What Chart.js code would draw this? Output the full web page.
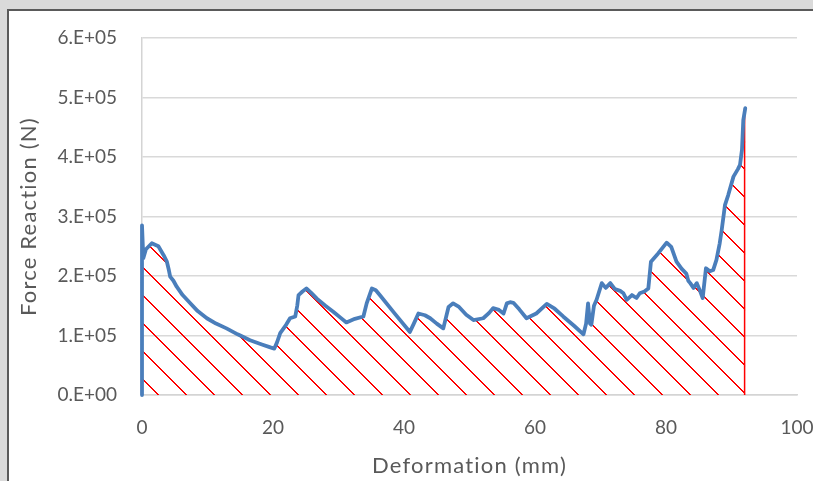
<!DOCTYPE html>
<html>
<head>
<meta charset="utf-8">
<script src="https://cdn.jsdelivr.net/npm/chart.js@4.4.1/dist/chart.umd.min.js"></script>
<style>
  html, body { margin: 0; padding: 0; }
  body { width: 813px; height: 481px; background: #dadada; position: relative; overflow: hidden; }
  #frame { position: absolute; left: 7px; top: 9px; right: 0; bottom: 0; background: #fff;
           border-left: 2px solid #5a5a5a; border-top: 2px solid #5a5a5a; }
  #wrap { position: absolute; left: 0; top: 0; width: 813px; height: 481px; }
</style>
</head>
<body>
<div id="frame"></div>
<div id="wrap"><canvas id="grafico" width="813" height="481"></canvas></div>
<script>
// deformation (mm) / force reaction (N)
const deformation = [
  0, 0, 0.2, 0.6, 1.5, 2.5, 3.3, 3.8, 4.1, 4.3,
  4.8, 5.3, 6.2, 7.3, 8.5, 9.9, 11.3, 12.9, 14.6, 16.5,
  18.3, 19.6, 20.2, 20.6, 21.1, 22.0, 22.6, 23.4, 23.7, 23.9,
  24.5, 25.1, 25.8, 26.7, 28.0, 29.2, 30.3, 31.2, 32.5, 33.8,
  34.3, 35.1, 35.7, 36.3, 38.5, 40.9, 41.5, 42.2, 43.2, 44.0,
  45.0, 46.0, 46.8, 47.5, 48.4, 49.5, 50.6, 52.1, 53.0, 53.6,
  54.5, 55.2, 55.7, 56.2, 56.7, 57.6, 58.7, 60.2, 61.8, 63.0,
  64.3, 66.0, 67.4, 67.8, 68.1, 68.4, 68.6, 69.0, 69.4, 70.2,
  70.8, 71.5, 72.2, 73.0, 73.5, 74.0, 74.8, 75.5, 76.0, 76.7,
  77.3, 77.7, 78.8, 80.1, 80.8, 81.6, 82.4, 83.1, 83.4, 83.7,
  84.2, 84.7, 85.2, 85.6, 86.1, 86.7, 87.2, 87.7, 88.2, 88.5,
  89.0, 89.5, 90.3, 91.0, 91.3, 91.6, 91.8, 92.1
];
const forceReaction = [
  0, 285000, 230000, 245000, 255000, 250000, 235000, 224000, 210000, 199000,
  192000, 182000, 168000, 155000, 141000, 129000, 120000, 112000, 102000, 92000,
  85000, 80000, 78000, 88000, 104000, 118000, 129000, 132000, 150000, 168000,
  174000, 179000, 172000, 162000, 150000, 140000, 130000, 122000, 128000, 132000,
  154000, 179000, 176000, 168000, 138000, 106000, 120000, 137000, 134000, 129000,
  120000, 112000, 148000, 154000, 148000, 135000, 126000, 129000, 138000, 146000,
  143000, 137000, 154000, 156000, 155000, 144000, 129000, 137000, 153000, 145000,
  132000, 116000, 102000, 120000, 154000, 120000, 118000, 150000, 160000, 188000,
  180000, 188000, 178000, 175000, 171000, 160000, 168000, 163000, 171000, 174000,
  179000, 224000, 238000, 256000, 249000, 224000, 212000, 204000, 192000, 188000,
  180000, 188000, 175000, 163000, 213000, 208000, 210000, 227000, 255000, 277000,
  319000, 336000, 367000, 380000, 387000, 412000, 462000, 482000
];
// red limit line at the end of the test
const cutDeformation = [92, 92];
const cutForce = [0, 482000];

const yTickLabels = ['0.E+00', '1.E+05', '2.E+05', '3.E+05', '4.E+05', '5.E+05', '6.E+05'];
const xTitle = 'Deformation (mm)';
const yTitle = 'Force Reaction (N)';

const textColor = '#595959';

// hatch pattern: red "\" lines, drawn pixel by pixel in the tile
function hachura(ctx) {
  const s = 28, c = 13;
  const cv = document.createElement('canvas');
  cv.width = s; cv.height = s;
  const g = cv.getContext('2d');
  g.fillStyle = '#ff0000';
  for (let i = 0; i < s; i++) {
    g.fillRect(i, (i + c) % s, 1, 1);
    g.fillRect((i + 1) % s, (i + c) % s, 1, 1);
  }
  return ctx.createPattern(cv, 'repeat');
}

const titulos = {
  id: 'titulos',
  afterDraw(chart) {
    const ctx = chart.ctx;
    const a = chart.chartArea;
    ctx.save();
    ctx.fillStyle = textColor;
    ctx.font = '22px Lato';
    ctx.letterSpacing = '1.2px';
    ctx.textAlign = 'center';
    ctx.textBaseline = 'middle';
    ctx.fillText(xTitle, (a.left + a.right) / 2, 466);
    ctx.translate(29, (a.top + a.bottom) / 2);
    ctx.rotate(-Math.PI / 2);
    ctx.fillText(yTitle, 0, 0);
    ctx.restore();
  }
};

const canvas = document.getElementById('grafico');
const pattern = hachura(canvas.getContext('2d'));

new Chart(canvas, {
  type: 'line',
  data: {
    datasets: [{
      label: 'Force',
      data: deformation.map((d, i) => ({ x: d, y: forceReaction[i] })),
      borderColor: '#4a7ebb',
      borderWidth: 3.8,
      borderJoinStyle: 'round',
      borderCapStyle: 'round',
      backgroundColor: pattern,
      fill: 'origin',
      clip: 6,
      pointRadius: 0,
      tension: 0
    }, {
      label: 'Limite',
      data: cutDeformation.map((d, i) => ({ x: d, y: cutForce[i] })),
      borderColor: '#ff0000',
      borderWidth: 1.5,
      pointRadius: 0,
      fill: false
    }]
  },
  options: {
    responsive: false,
    animation: false,
    layout: { padding: { left: 0, top: 38, right: 16, bottom: 0 } },
    plugins: { legend: { display: false }, tooltip: { enabled: false } },
    scales: {
      x: {
        type: 'linear',
        min: 0, max: 100,
        ticks: { stepSize: 20, color: textColor, font: { family: 'Lato', size: 19 }, padding: 13, maxRotation: 0 },
        grid: { display: false },
        border: { display: true, color: '#d4d4d4', width: 1.5 },
        afterFit: s => { s.height = 86; s.paddingLeft = 0; s.paddingRight = 0; }
      },
      y: {
        min: 0, max: 600000,
        ticks: {
          stepSize: 100000,
          color: textColor,
          font: { family: 'Lato', size: 19 },
          padding: 25,
          callback: (v, i) => yTickLabels[i]
        },
        grid: { color: '#d9d9d9', lineWidth: 1.5, drawTicks: false },
        border: { display: true, color: '#d4d4d4', width: 1.5 },
        afterFit: s => { s.width = 142; }
      }
    }
  },
  plugins: [titulos]
});
</script>
</body>
</html>
